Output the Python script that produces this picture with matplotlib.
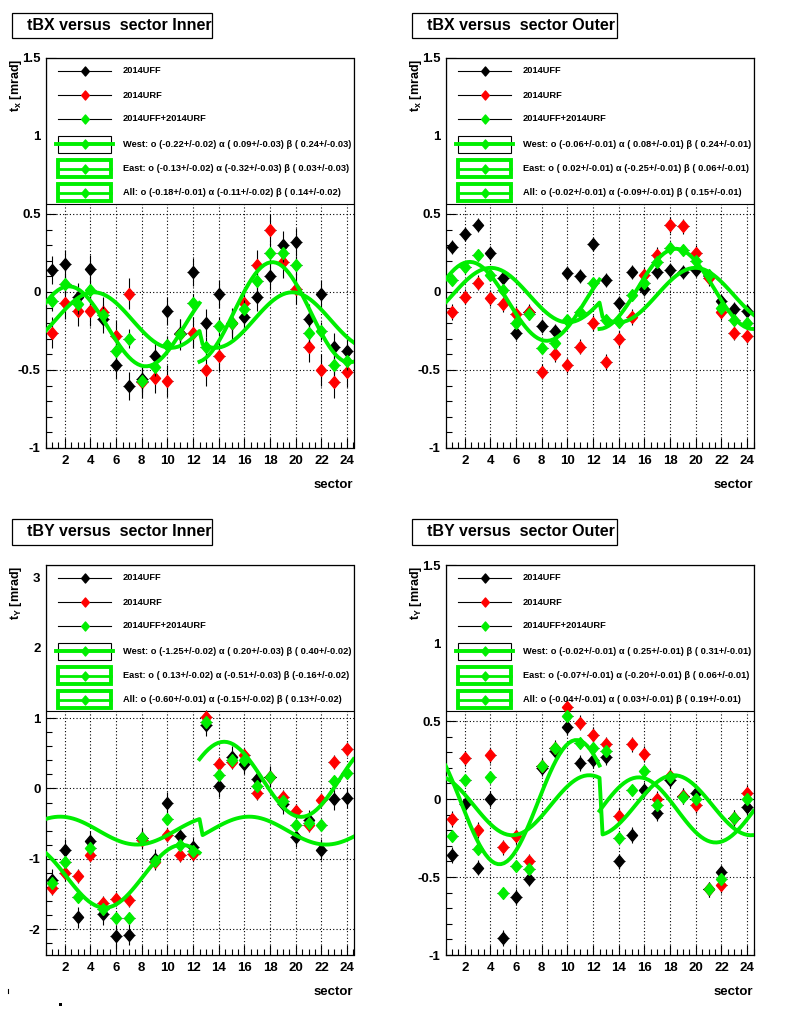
import numpy as np
import matplotlib
matplotlib.use('Agg')
import matplotlib.pyplot as plt
from matplotlib.patches import Rectangle
from matplotlib.lines import Line2D
from matplotlib.path import Path
from matplotlib.ticker import MultipleLocator

plt.rcParams['font.family'] = ['Liberation Sans', 'DejaVu Sans']
plt.rcParams['font.weight'] = 'bold'
plt.rcParams['mathtext.fontset'] = 'custom'
plt.rcParams['mathtext.rm'] = 'Liberation Sans'
plt.rcParams['mathtext.bf'] = 'Liberation Sans:bold'

sectors = np.arange(1, 25)
series_names = ['2014UFF', '2014URF', '2014UFF+2014URF']
series_colors = ['black', '#ff0000', '#00ee00']

# ---- tBX Inner ----
tbx_inner_uff = [0.14, 0.18, -0.03, 0.15, -0.17, -0.47, -0.60, -0.56, -0.41, -0.12, -0.26, 0.13,
                 -0.20, -0.01, -0.20, -0.16, -0.03, 0.10, 0.30, 0.32, -0.17, -0.01, -0.35, -0.38]
tbx_inner_urf = [-0.26, -0.07, -0.12, -0.12, -0.13, -0.28, -0.01, -0.58, -0.55, -0.57, -0.27, -0.26,
                 -0.50, -0.41, -0.20, -0.07, 0.17, 0.40, 0.19, 0.02, -0.35, -0.50, -0.58, -0.51]
tbx_inner_all = [-0.06, 0.05, -0.08, 0.01, -0.15, -0.38, -0.30, -0.57, -0.48, -0.34, -0.27, -0.07,
                 -0.35, -0.22, -0.20, -0.11, 0.07, 0.25, 0.25, 0.17, -0.26, -0.25, -0.47, -0.44]
tbx_inner_err = [0.09, 0.10, 0.06]

# ---- tBX Outer ----
tbx_outer_uff = [0.29, 0.37, 0.43, 0.25, 0.09, -0.26, -0.13, -0.22, -0.25, 0.12, 0.10, 0.31,
                 0.08, -0.07, 0.13, 0.02, 0.13, 0.14, 0.13, 0.14, 0.10, -0.06, -0.11, -0.12]
tbx_outer_urf = [-0.13, -0.03, 0.06, -0.04, -0.08, -0.14, -0.13, -0.51, -0.40, -0.47, -0.35, -0.20,
                 -0.45, -0.30, -0.16, 0.11, 0.24, 0.43, 0.42, 0.25, 0.09, -0.13, -0.26, -0.28]
tbx_outer_all = [0.08, 0.16, 0.24, 0.11, 0.01, -0.20, -0.14, -0.36, -0.33, -0.18, -0.13, 0.06,
                 -0.18, -0.19, -0.02, 0.06, 0.19, 0.28, 0.27, 0.20, 0.11, -0.10, -0.18, -0.20]
tbx_outer_err = [0.045, 0.05, 0.03]

# ---- tBY Inner ----
tby_inner_uff = [-1.30, -0.87, -1.83, -0.75, -1.79, -2.10, -2.08, -0.71, -1.01, -0.20, -0.68, -0.84,
                 0.90, 0.03, 0.45, 0.35, 0.13, 0.17, -0.22, -0.69, -0.45, -0.87, -0.15, -0.13]
tby_inner_urf = [-1.41, -1.21, -1.25, -0.95, -1.63, -1.57, -1.59, -0.74, -1.05, -0.66, -0.95, -0.93,
                 1.02, 0.35, 0.38, 0.47, -0.07, 0.17, -0.12, -0.32, -0.52, -0.17, 0.37, 0.56]
tby_inner_all = [-1.35, -1.04, -1.54, -0.85, -1.71, -1.84, -1.84, -0.71, -1.03, -0.44, -0.81, -0.89,
                 0.95, 0.19, 0.41, 0.41, 0.03, 0.17, -0.18, -0.52, -0.49, -0.52, 0.10, 0.22]
tby_inner_err = [0.15, 0.10, 0.07]

# ---- tBY Outer ----
tby_outer_uff = [-0.36, -0.03, -0.44, 0.00, -0.89, -0.63, -0.51, 0.20, 0.31, 0.46, 0.23, 0.25,
                 0.27, -0.40, -0.23, 0.06, -0.09, 0.12, 0.02, 0.04, -0.58, -0.47, -0.12, -0.05]
tby_outer_urf = [-0.13, 0.26, -0.20, 0.28, -0.31, -0.24, -0.40, 0.21, 0.33, 0.59, 0.49, 0.41,
                 0.35, -0.11, 0.35, 0.29, 0.00, 0.15, 0.02, -0.04, -0.58, -0.55, -0.12, 0.04]
tby_outer_all = [-0.24, 0.12, -0.32, 0.14, -0.60, -0.43, -0.45, 0.21, 0.33, 0.53, 0.36, 0.33,
                 0.31, -0.25, 0.06, 0.18, -0.04, 0.14, 0.01, 0.00, -0.58, -0.51, -0.12, 0.00]
tby_outer_err = [0.05, 0.05, 0.03]

# fit parameters (o, alpha, beta) per side, as printed in the legends
fit_tbx_inner = {'West': (-0.22, 0.09, 0.24), 'East': (-0.13, -0.32, 0.03), 'All': (-0.18, -0.11, 0.14)}
fit_tbx_outer = {'West': (-0.06, 0.08, 0.24), 'East': (0.02, -0.25, 0.06), 'All': (-0.02, -0.09, 0.15)}
fit_tby_inner = {'West': (-1.25, 0.20, 0.40), 'East': (0.13, -0.51, -0.16), 'All': (-0.60, -0.15, 0.13)}
fit_tby_outer = {'West': (-0.02, 0.25, 0.31), 'East': (-0.07, -0.20, 0.06), 'All': (-0.04, 0.03, 0.19)}

label_tbx_inner = ['West: o (-0.22+/-0.02) \u03b1 ( 0.09+/-0.03) \u03b2 ( 0.24+/-0.03)',
                   'East: o (-0.13+/-0.02) \u03b1 (-0.32+/-0.03) \u03b2 ( 0.03+/-0.03)',
                   'All: o (-0.18+/-0.01) \u03b1 (-0.11+/-0.02) \u03b2 ( 0.14+/-0.02)']
label_tbx_outer = ['West: o (-0.06+/-0.01) \u03b1 ( 0.08+/-0.01) \u03b2 ( 0.24+/-0.01)',
                   'East: o ( 0.02+/-0.01) \u03b1 (-0.25+/-0.01) \u03b2 ( 0.06+/-0.01)',
                   'All: o (-0.02+/-0.01) \u03b1 (-0.09+/-0.01) \u03b2 ( 0.15+/-0.01)']
label_tby_inner = ['West: o (-1.25+/-0.02) \u03b1 ( 0.20+/-0.03) \u03b2 ( 0.40+/-0.02)',
                   'East: o ( 0.13+/-0.02) \u03b1 (-0.51+/-0.03) \u03b2 (-0.16+/-0.02)',
                   'All: o (-0.60+/-0.01) \u03b1 (-0.15+/-0.02) \u03b2 ( 0.13+/-0.02)']
label_tby_outer = ['West: o (-0.02+/-0.01) \u03b1 ( 0.25+/-0.01) \u03b2 ( 0.31+/-0.01)',
                   'East: o (-0.07+/-0.01) \u03b1 (-0.20+/-0.01) \u03b2 ( 0.06+/-0.01)',
                   'All: o (-0.04+/-0.01) \u03b1 ( 0.03+/-0.01) \u03b2 ( 0.19+/-0.01)']

diamond = Path([(0, 1), (0.85, 0), (0, -1), (-0.85, 0), (0, 1)],
               [Path.MOVETO, Path.LINETO, Path.LINETO, Path.LINETO, Path.CLOSEPOLY])
fit_green = '#00ee00'


def fit_value(kind, s, pars, side):
    o, a, b = pars
    phi = np.radians(30.0 * s)
    sign = 1.0 if side == 'West' else -1.0
    if kind == 'x':
        return o + a * np.cos(phi) + sign * b * np.sin(phi)
    return o - a * np.sin(phi) + sign * b * np.cos(phi)


def draw_panel(rect, title, title_box, kind, ylabel, ylim, ymaj, ymin, data, errs, fits, fit_labels):
    ax = fig.add_axes(rect)
    ax.set_xlim(0.5, 24.5)
    ax.set_ylim(*ylim)
    ax.xaxis.set_major_locator(MultipleLocator(2))
    ax.xaxis.set_minor_locator(MultipleLocator(0.5))
    ax.yaxis.set_major_locator(MultipleLocator(ymaj))
    ax.yaxis.set_minor_locator(MultipleLocator(ymin))
    ax.tick_params(which='both', direction='in', top=False, right=False, labelsize=9.5)
    ax.tick_params(which='major', length=7, width=0.8)
    ax.tick_params(which='minor', length=4, width=0.8)
    ax.tick_params(axis='x', pad=5)
    ax.grid(True, which='major', color='black', linestyle=(0, (1, 2)), linewidth=0.8)
    ax.set_axisbelow(True)
    for sp in ax.spines.values():
        sp.set_linewidth(0.9)
    ax.yaxis.set_major_formatter(matplotlib.ticker.FuncFormatter(lambda v, p: ('%g' % round(v, 2))))

    # legend box (hides grid)
    leg_bottom = 0.626
    ax.add_patch(Rectangle((0, leg_bottom), 1, 1 - leg_bottom, transform=ax.transAxes,
                           facecolor='white', edgecolor='black', lw=0.8, zorder=2))

    z = 3
    for vals, err, col in zip(data, errs, series_colors):
        ax.errorbar(sectors, vals, yerr=err, xerr=0.45, fmt='none', ecolor='black',
                    elinewidth=0.8, capsize=0, zorder=z)
        ax.plot(sectors, vals, ls='none', marker=diamond, ms=8.5, mfc=col, mec=col, zorder=z + 0.5)
        z += 1

    sw = np.linspace(0.5, 12.5, 51)
    se = np.linspace(12.5, 24.5, 51)
    ax.plot(sw, fit_value(kind, sw, fits['West'], 'West'), color=fit_green, lw=2.8, zorder=7)
    ax.plot(se, fit_value(kind, se, fits['East'], 'East'), color=fit_green, lw=2.8, zorder=7)
    sa = np.linspace(0.5, 24.5, 101)
    ya = np.where(sa <= 12.5, fit_value(kind, sa, fits['All'], 'West'),
                  fit_value(kind, sa, fits['All'], 'East'))
    ax.plot(sa, ya, color=fit_green, lw=2.8, zorder=7)

    # legend entries
    rows = [0.967, 0.905, 0.844, 0.779, 0.716, 0.655]
    x0, x1, xm, xt = 0.039, 0.214, 0.127, 0.252
    tr = ax.transAxes
    for y, name, col in zip(rows[:3], series_names, series_colors):
        ax.add_line(Line2D([x0, x1], [y, y], transform=tr, color='black', lw=0.8, zorder=8))
        ax.add_line(Line2D([xm], [y], transform=tr, marker=diamond, ms=6.5, mfc=col, mec=col,
                           ls='none', zorder=9))
        ax.text(xt, y, name, transform=tr, fontsize=6.7, va='center', zorder=9)
    bh = 0.044
    for i, (y, lab) in enumerate(zip(rows[3:], fit_labels)):
        if i == 0:
            ax.add_patch(Rectangle((x0, y - bh / 2), x1 - x0, bh, transform=tr, fill=False,
                                   edgecolor='black', lw=0.8, zorder=8))
            ax.add_line(Line2D([x0 - 0.005, x1 + 0.005], [y, y], transform=tr, color=fit_green,
                               lw=2.8, zorder=8))
        else:
            ax.add_patch(Rectangle((x0, y - bh / 2), x1 - x0, bh, transform=tr, fill=False,
                                   edgecolor=fit_green, lw=2.8, zorder=8))
            ax.add_line(Line2D([x0, x1], [y, y], transform=tr, color=fit_green, lw=2.0, zorder=8))
        ax.add_line(Line2D([xm], [y], transform=tr, marker=diamond, ms=6.5, mfc=fit_green,
                           mec=fit_green, ls='none', zorder=9))
        ax.text(xt, y, lab, transform=tr, fontsize=6.7, va='center', zorder=9)

    ax.text(1.0, -0.095, 'sector', transform=tr, ha='right', va='center', fontsize=9.5)

    # title box and y label in figure pixels
    bx0, by0, bx1, by1 = title_box
    fig.add_artist(Rectangle((bx0 / W, 1 - by1 / H), (bx1 - bx0) / W, (by1 - by0) / H,
                             transform=fig.transFigure, facecolor='white', edgecolor='black', lw=0.9))
    fig.text((bx0 + 15) / W, 1 - (by0 + by1) / 2 / H, title, fontsize=11.5, ha='left', va='center')
    left_px = rect[0] * W
    top_px = (1 - rect[1] - rect[3]) * H
    fig.text((left_px - 30) / W, 1 - (top_px + 1) / H, ylabel, rotation=90, ha='center', va='top',
             fontsize=9)
    return ax


W, H = 800, 1014
fig = plt.figure(figsize=(W / 100, H / 100), dpi=100)
aw, ah = 308 / W, 390 / H

draw_panel([45.5 / W, 1 - 448 / H, aw, ah], 'tBX versus  sector Inner', (12, 13, 212, 38), 'x',
           r'$\mathbf{t}_\mathbf{x}$ [mrad]', (-1, 1.5), 0.5, 0.1,
           [tbx_inner_uff, tbx_inner_urf, tbx_inner_all], tbx_inner_err, fit_tbx_inner, label_tbx_inner)
draw_panel([445.5 / W, 1 - 448 / H, aw, ah], 'tBX versus  sector Outer', (412, 13, 617, 38), 'x',
           r'$\mathbf{t}_\mathbf{x}$ [mrad]', (-1, 1.5), 0.5, 0.1,
           [tbx_outer_uff, tbx_outer_urf, tbx_outer_all], tbx_outer_err, fit_tbx_outer, label_tbx_outer)
draw_panel([45.5 / W, 1 - 955 / H, aw, ah], 'tBY versus  sector Inner', (12, 519, 212, 545), 'y',
           r'$\mathbf{t}_\mathbf{Y}$ [mrad]', (-2.37, 3.18), 1, 0.2,
           [tby_inner_uff, tby_inner_urf, tby_inner_all], tby_inner_err, fit_tby_inner, label_tby_inner)
draw_panel([445.5 / W, 1 - 955 / H, aw, ah], 'tBY versus  sector Outer', (412, 519, 617, 545), 'y',
           r'$\mathbf{t}_\mathbf{Y}$ [mrad]', (-1, 1.5), 0.5, 0.1,
           [tby_outer_uff, tby_outer_urf, tby_outer_all], tby_outer_err, fit_tby_outer, label_tby_outer)

# stray marks in the lower-left corner of the original canvas
fig.add_artist(Line2D([7.5 / W, 7.5 / W], [1 - 989 / H, 1 - 993 / H], color='black', lw=0.8))
fig.add_artist(Rectangle((59 / W, 1 - 1006 / H), 3 / W, 3 / H, transform=fig.transFigure,
                         facecolor='black', edgecolor='none'))

fig.savefig('out.png', dpi=100)
